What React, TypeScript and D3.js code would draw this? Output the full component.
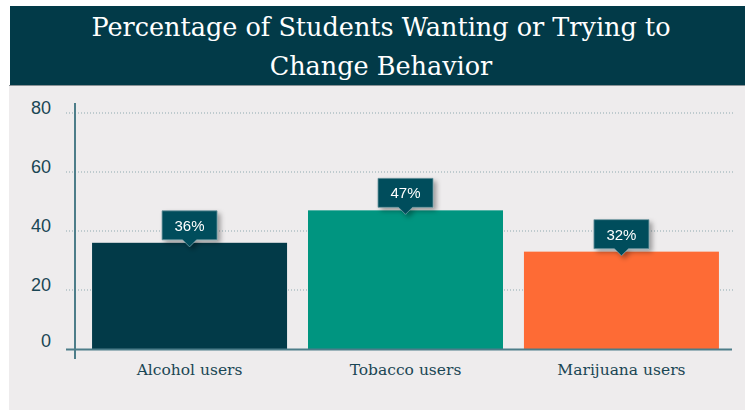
import React from "react";
import * as d3 from "d3";

const categories = ["Alcohol users", "Tobacco users", "Marijuana users"];
const values = [36, 47, 33];
const valueLabels = ["36%", "47%", "32%"];
const barColors = ["#023a48", "#009580", "#fe6b35"];
const yTicks = [0, 20, 40, 60, 80];
const titleLines = ["Percentage of Students Wanting or Trying to", "Change Behavior"];

const W = 745;
const H = 410;

const App = () => {
  // plot area
  const axisX = 75;
  const baseY = 349;
  const topY = 113;

  const y = d3.scaleLinear().domain([0, 80]).range([baseY, topY]);
  const x = d3
    .scaleBand<string>()
    .domain(categories)
    .range([axisX, 736])
    .paddingInner(0.097)
    .paddingOuter(0.079);

  const boxW = 55;
  const boxH = 29;

  return (
    <svg
      width={W}
      height={H}
      style={{ position: "absolute", left: 0, top: 0 }}
    >
      <defs>
        <filter id="shadow" x="-30%" y="-30%" width="170%" height="180%">
          <feDropShadow dx="3" dy="3" stdDeviation="2.5" floodColor="#000" floodOpacity="0.35" />
        </filter>
      </defs>
      <rect x={0} y={0} width={W} height={H} fill="#fff" />
      {/* title band */}
      <rect x={10} y={6} width={W - 10} height={79} fill="#023a48" />
      <rect x={9} y={85} width={W - 9} height={H - 85} fill="#eeeced" />
      <line x1={9} x2={W} y1={85.5} y2={85.5} stroke="#8a9296" strokeWidth={1} />
      {titleLines.map((t, i) => (
        <text
          key={t}
          x={381}
          y={36 + i * 39}
          textAnchor="middle"
          fill="#ffffff"
          style={{ fontFamily: "DejaVu Serif", fontSize: 25.5, fontWeight: 300 }}
        >
          {t}
        </text>
      ))}

      {/* grid + y tick labels */}
      {yTicks.map((t) => (
        <g key={t}>
          {t > 0 && (
            <line
              x1={66}
              x2={733}
              y1={y(t)}
              y2={y(t)}
              stroke="#8ea9af"
              strokeWidth={1}
              strokeDasharray="1,2"
            />
          )}
          <text
            x={51}
            y={y(t) + (t === 0 ? -2 : 1)}
            textAnchor="end"
            fill="#1a4654"
            style={{ fontFamily: "Liberation Sans", fontSize: 18 }}
          >
            {t}
          </text>
        </g>
      ))}

      {/* bars */}
      {categories.map((c, i) => (
        <rect
          key={c}
          x={x(c)}
          y={y(values[i])}
          width={x.bandwidth()}
          height={baseY - y(values[i])}
          fill={barColors[i]}
        />
      ))}

      {/* axes */}
      <line x1={66} x2={732} y1={baseY + 0.5} y2={baseY + 0.5} stroke="#4d7d89" strokeWidth={2} />
      <line x1={axisX} x2={axisX} y1={103} y2={359} stroke="#4d7d89" strokeWidth={2} />

      {/* category labels */}
      {categories.map((c) => (
        <text
          key={c}
          x={(x(c) ?? 0) + x.bandwidth() / 2}
          y={375}
          textAnchor="middle"
          fill="#1a4654"
          style={{ fontFamily: "DejaVu Serif", fontSize: 15.5 }}
        >
          {c}
        </text>
      ))}

      {/* value callouts */}
      {categories.map((c, i) => {
        const cx = (x(c) ?? 0) + x.bandwidth() / 2;
        const bottom = y(values[i]) - 3;
        const top = bottom - boxH;
        return (
          <g key={c} filter="url(#shadow)">
            <path
              d={`M${cx - boxW / 2},${top} H${cx + boxW / 2} V${bottom} H${cx + 7} L${cx},${bottom + 7} L${cx - 7},${bottom} H${cx - boxW / 2} Z`}
              fill="#004d5c"
              stroke="#6f97a0"
              strokeWidth={0.8}
            />
            <text
              x={cx}
              y={top + 20}
              textAnchor="middle"
              fill="#ffffff"
              style={{ fontFamily: "Liberation Sans", fontSize: 15 }}
            >
              {valueLabels[i]}
            </text>
          </g>
        );
      })}
    </svg>
  );
};

export default App;
